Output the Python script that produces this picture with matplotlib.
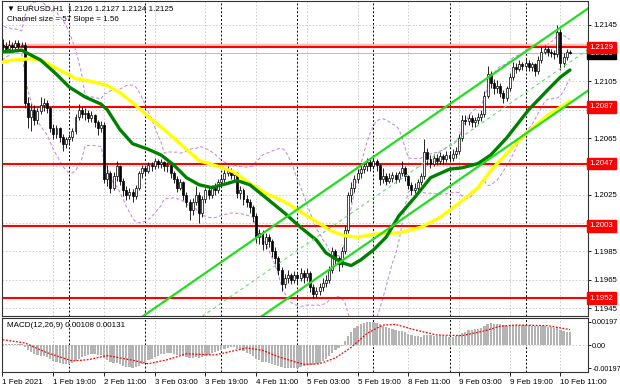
import numpy as np
import pandas as pd
import matplotlib
matplotlib.use('Agg')
import matplotlib.pyplot as plt
from matplotlib import transforms

plt.rcParams['font.family'] = ['Liberation Sans', 'DejaVu Sans']

# hourly bars, index = hours since 1 Feb 00:00 (weekend skipped)
first_bar = 3
open0 = 1.2131
closes = [
    1.2130, 1.2128, 1.2131, 1.2129, 1.2132, 1.2130, 1.2131, 1.2090, 1.2080, 1.2085,
    1.2078, 1.2084, 1.2088, 1.2090, 1.2086, 1.2072, 1.2068, 1.2072, 1.2066, 1.2061,
    1.2064, 1.2066, 1.2070, 1.2080, 1.2085, 1.2082, 1.2083, 1.2079, 1.2081, 1.2076,
    1.2072, 1.2074, 1.2036, 1.2040, 1.2030, 1.2038, 1.2045, 1.2035, 1.2028, 1.2025,
    1.2027, 1.2024, 1.2030, 1.2040, 1.2044, 1.2042, 1.2046, 1.2045, 1.2049, 1.2047,
    1.2048, 1.2045, 1.2046, 1.2040, 1.2036, 1.2030, 1.2034, 1.2025, 1.2020, 1.2014,
    1.2020, 1.2025, 1.2012, 1.2022, 1.2028, 1.2025, 1.2030, 1.2028, 1.2034, 1.2036,
    1.2040, 1.2042, 1.2039, 1.2040, 1.2026, 1.2028, 1.2022, 1.2020, 1.2016, 1.2010,
    1.1995, 1.1998, 1.1990, 1.1995, 1.1992, 1.1985, 1.1980, 1.1972, 1.1962, 1.1966,
    1.1968, 1.1965, 1.1968, 1.1966, 1.1970, 1.1967, 1.1970, 1.1960, 1.1955, 1.1957,
    1.1960, 1.1963, 1.1965, 1.1972, 1.1985, 1.1980, 1.1976, 1.1985, 1.2000, 1.2025,
    1.2030, 1.2036, 1.2040, 1.2043, 1.2045, 1.2048, 1.2045, 1.2049, 1.2046, 1.2036,
    1.2038, 1.2035, 1.2037, 1.2039, 1.2036, 1.2040, 1.2044, 1.2038, 1.2032, 1.2028,
    1.2030, 1.2034, 1.2038, 1.2055, 1.2050, 1.2047, 1.2051, 1.2049, 1.2052, 1.2050,
    1.2053, 1.2051, 1.2054, 1.2056, 1.2065, 1.2078, 1.2077, 1.2079, 1.2076, 1.2078,
    1.2080, 1.2082, 1.2095, 1.2110, 1.2104, 1.2100, 1.2102, 1.2097, 1.2093, 1.2100,
    1.2108, 1.2115, 1.2114, 1.2117, 1.2116, 1.2118, 1.2115, 1.2117, 1.2112, 1.2120,
    1.2126, 1.2128, 1.2126, 1.2125, 1.2124, 1.2140, 1.2118, 1.2122, 1.2126, 1.2125,
]
highs = [
    1.2135, 1.2133, 1.2134, 1.2133, 1.2134, 1.2134, 1.2133, 1.2133, 1.2094, 1.2089,
    1.2088, 1.2086, 1.2094, 1.2093, 1.2092, 1.2087, 1.2075, 1.2074, 1.2073, 1.2068,
    1.2066, 1.2068, 1.2072, 1.2082, 1.2089, 1.2087, 1.2086, 1.2085, 1.2084, 1.2082,
    1.2078, 1.2077, 1.2076, 1.2046, 1.2042, 1.2041, 1.2049, 1.2046, 1.2037, 1.2031,
    1.2030, 1.2029, 1.2032, 1.2042, 1.2046, 1.2046, 1.2048, 1.2048, 1.2051, 1.2050,
    1.2050, 1.2049, 1.2048, 1.2047, 1.2042, 1.2038, 1.2036, 1.2035, 1.2027, 1.2022,
    1.2023, 1.2031, 1.2027, 1.2024, 1.2030, 1.2031, 1.2032, 1.2033, 1.2036, 1.2039,
    1.2043, 1.2045, 1.2044, 1.2042, 1.2041, 1.2031, 1.2030, 1.2025, 1.2022, 1.2018,
    1.2012, 1.2001, 1.2000, 1.1998, 1.1997, 1.1994, 1.1988, 1.1982, 1.1974, 1.1969,
    1.1972, 1.1970, 1.1971, 1.1970, 1.1973, 1.1972, 1.1973, 1.1971, 1.1962, 1.1960,
    1.1963, 1.1966, 1.1968, 1.1975, 1.1988, 1.1987, 1.1982, 1.1988, 1.2003, 1.2027,
    1.2034, 1.2039, 1.2043, 1.2046, 1.2048, 1.2051, 1.2050, 1.2052, 1.2050, 1.2047,
    1.2044, 1.2040, 1.2040, 1.2041, 1.2041, 1.2042, 1.2049, 1.2045, 1.2039, 1.2034,
    1.2033, 1.2036, 1.2040, 1.2064, 1.2058, 1.2053, 1.2054, 1.2054, 1.2055, 1.2054,
    1.2056, 1.2055, 1.2057, 1.2059, 1.2068, 1.2081, 1.2081, 1.2082, 1.2081, 1.2080,
    1.2083, 1.2085, 1.2098, 1.2116, 1.2112, 1.2107, 1.2106, 1.2104, 1.2099, 1.2102,
    1.2111, 1.2119, 1.2118, 1.2120, 1.2119, 1.2121, 1.2120, 1.2119, 1.2118, 1.2123,
    1.2129, 1.2131, 1.2130, 1.2128, 1.2127, 1.2145, 1.2142, 1.2125, 1.2128, 1.2127,
]
lows = [
    1.2127, 1.2126, 1.2126, 1.2127, 1.2128, 1.2128, 1.2129, 1.2086, 1.2072, 1.2070,
    1.2074, 1.2075, 1.2082, 1.2084, 1.2083, 1.2069, 1.2064, 1.2065, 1.2062, 1.2056,
    1.2058, 1.2060, 1.2063, 1.2068, 1.2078, 1.2079, 1.2078, 1.2076, 1.2076, 1.2073,
    1.2067, 1.2069, 1.2033, 1.2031, 1.2026, 1.2028, 1.2035, 1.2032, 1.2024, 1.2021,
    1.2022, 1.2020, 1.2022, 1.2028, 1.2037, 1.2039, 1.2040, 1.2042, 1.2043, 1.2044,
    1.2044, 1.2042, 1.2041, 1.2037, 1.2033, 1.2027, 1.2028, 1.2021, 1.2016, 1.2007,
    1.2011, 1.2018, 1.2005, 1.2009, 1.2019, 1.2022, 1.2023, 1.2025, 1.2026, 1.2031,
    1.2034, 1.2038, 1.2036, 1.2035, 1.2023, 1.2022, 1.2018, 1.2016, 1.2012, 1.2006,
    1.1991, 1.1990, 1.1986, 1.1987, 1.1988, 1.1981, 1.1976, 1.1968, 1.1957, 1.1959,
    1.1963, 1.1962, 1.1963, 1.1962, 1.1964, 1.1963, 1.1964, 1.1956, 1.1952, 1.1953,
    1.1954, 1.1957, 1.1960, 1.1963, 1.1970, 1.1976, 1.1971, 1.1974, 1.1983, 1.1998,
    1.2020, 1.2027, 1.2033, 1.2037, 1.2040, 1.2042, 1.2042, 1.2043, 1.2042, 1.2032,
    1.2033, 1.2032, 1.2033, 1.2034, 1.2033, 1.2034, 1.2038, 1.2035, 1.2029, 1.2025,
    1.2026, 1.2028, 1.2032, 1.2036, 1.2046, 1.2044, 1.2045, 1.2046, 1.2047, 1.2047,
    1.2048, 1.2048, 1.2049, 1.2051, 1.2054, 1.2063, 1.2074, 1.2074, 1.2073, 1.2073,
    1.2075, 1.2077, 1.2080, 1.2093, 1.2100, 1.2096, 1.2097, 1.2094, 1.2090, 1.2091,
    1.2098, 1.2106, 1.2111, 1.2112, 1.2113, 1.2114, 1.2112, 1.2112, 1.2109, 1.2110,
    1.2118, 1.2124, 1.2123, 1.2122, 1.2121, 1.2122, 1.2113, 1.2115, 1.2120, 1.2124,
]
# closes before the first visible bar (for the bands)
prev_closes = [1.2112, 1.2118, 1.2125, 1.2121, 1.2130, 1.2136, 1.2140, 1.2134, 1.2138, 1.2142,
               1.2137, 1.2133, 1.2128, 1.2135, 1.2139, 1.2136, 1.2131, 1.2127, 1.2133, 1.2131]

# moving averages
green_t = [2, 5, 9, 15, 20, 24, 29, 34, 36, 40, 44, 49, 53, 57, 61, 65, 69, 74, 77, 81, 86,
           92, 97, 102, 105, 110, 113, 116, 120, 124, 128, 133, 138, 144, 148, 153, 157, 162,
           169, 175, 179, 182]
green_p = [1.2126, 1.2126, 1.2127, 1.2120, 1.2110, 1.2101, 1.2094, 1.2089, 1.2085, 1.2071,
           1.2061, 1.2057, 1.2053, 1.2046, 1.2037, 1.2032, 1.2030, 1.2033, 1.2035, 1.2032,
           1.2023, 1.2012, 1.2002, 1.1993, 1.1984, 1.1977, 1.1975, 1.1979, 1.1986, 1.1995,
           1.2010, 1.2023, 1.2037, 1.2043, 1.2044, 1.2047, 1.2053, 1.2065, 1.2085, 1.2099,
           1.2108, 1.2113]
yellow_t = [2, 6, 12, 16, 21, 26, 31, 36, 40, 44, 49, 55, 61, 65, 71, 76, 81, 86, 92, 97,
            102, 107, 111, 115, 120, 124, 128, 135, 141, 147, 153, 157, 162, 168, 175, 182]
yellow_p = [1.2118, 1.2120, 1.2121, 1.2119, 1.2113, 1.2107, 1.2105, 1.2102, 1.2097, 1.2090,
            1.2080, 1.2069, 1.2057, 1.2049, 1.2045, 1.2041, 1.2033, 1.2026, 1.2020, 1.2013,
            1.2006, 1.1999, 1.1996, 1.1995, 1.1997, 1.1998, 1.1998, 1.2002, 1.2009, 1.2019,
            1.2030, 1.2042, 1.2054, 1.2068, 1.2081, 1.2091]

levels = [1.2129, 1.2087, 1.2047, 1.2003, 1.1952]
bid = 1.2125

# regression channel: middle line end points and half width
chan_t = [40, 190]
chan_mid = [1.1899, 1.2131]
chan_half = 0.0029

macd_main = [
    0.00012, 0.00010, 0.00010, 0.00008, 0.00008, 0.00006, 0.00005, -0.00020, -0.00045, -0.00060,
    -0.00075, -0.00085, -0.00090, -0.00095, -0.00105, -0.00120, -0.00135, -0.00145, -0.00155, -0.00165,
    -0.00165, -0.00160, -0.00150, -0.00135, -0.00115, -0.00100, -0.00090, -0.00085, -0.00080, -0.00080,
    -0.00082, -0.00085, -0.00110, -0.00130, -0.00148, -0.00155, -0.00155, -0.00165, -0.00175, -0.00185,
    -0.00190, -0.00195, -0.00190, -0.00175, -0.00160, -0.00145, -0.00130, -0.00115, -0.00100, -0.00090,
    -0.00080, -0.00075, -0.00070, -0.00072, -0.00078, -0.00085, -0.00088, -0.00095, -0.00102, -0.00110,
    -0.00110, -0.00105, -0.00110, -0.00100, -0.00090, -0.00082, -0.00072, -0.00062, -0.00050, -0.00040,
    -0.00030, -0.00022, -0.00018, -0.00015, -0.00030, -0.00040, -0.00055, -0.00068, -0.00080, -0.00095,
    -0.00118, -0.00130, -0.00142, -0.00148, -0.00152, -0.00160, -0.00168, -0.00178, -0.00190, -0.00195,
    -0.00197, -0.00197, -0.00195, -0.00192, -0.00185, -0.00180, -0.00172, -0.00172, -0.00170, -0.00162,
    -0.00150, -0.00135, -0.00118, -0.00095, -0.00065, -0.00045, -0.00028, -0.00005, 0.00030, 0.00080,
    0.00115, 0.00145, 0.00165, 0.00180, 0.00190, 0.00197, 0.00195, 0.00194, 0.00188, 0.00175,
    0.00165, 0.00152, 0.00142, 0.00135, 0.00125, 0.00120, 0.00118, 0.00110, 0.00095, 0.00085,
    0.00078, 0.00074, 0.00072, 0.00082, 0.00085, 0.00082, 0.00080, 0.00078, 0.00076, 0.00074,
    0.00074, 0.00072, 0.00072, 0.00075, 0.00085, 0.00102, 0.00115, 0.00125, 0.00130, 0.00135,
    0.00140, 0.00145, 0.00158, 0.00178, 0.00185, 0.00182, 0.00180, 0.00175, 0.00168, 0.00165,
    0.00168, 0.00172, 0.00172, 0.00173, 0.00172, 0.00170, 0.00167, 0.00165, 0.00158, 0.00158,
    0.00160, 0.00160, 0.00156, 0.00150, 0.00145, 0.00150, 0.00132, 0.00122, 0.00115, 0.00108,
]
signal_t = [3, 10, 17, 25, 30, 36, 44, 49, 55, 61, 70, 80, 85, 90, 98, 103, 108, 113, 118,
            123, 127, 133, 140, 148, 155, 160, 165, 175, 182]
signal_v = [0.00045, 0.00018, -0.00066, -0.00136, -0.00125, -0.00090, -0.00130, -0.00160,
            -0.00125, -0.00075, -0.00085, -0.00025, -0.00045, -0.00100, -0.00165, -0.00160,
            -0.00110, -0.00020, 0.00100, 0.00170, 0.00175, 0.00130, 0.00085, 0.00080, 0.00120,
            0.00160, 0.00170, 0.00165, 0.00131]

time_ticks = [19, 35, 51, 67, 83, 99, 115, 131, 147, 163, 179]
time_labels = ['1 Feb 19:00', '2 Feb 11:00', '3 Feb 03:00', '3 Feb 19:00', '4 Feb 11:00',
               '5 Feb 03:00', '5 Feb 19:00', '8 Feb 11:00', '9 Feb 03:00', '9 Feb 19:00',
               '10 Feb 11:00']
day_starts = [24, 48, 72, 96, 120, 144, 168]
price_ticks = [1.1945, 1.1965, 1.1985, 1.2005, 1.2025, 1.2045, 1.2065, 1.2085, 1.2105, 1.2125, 1.2145]

closes = np.array(closes)
highs = np.array(highs)
lows = np.array(lows)
t = np.arange(first_bar, first_bar + len(closes))
opens = np.r_[open0, closes[:-1]]

fig = plt.figure(figsize=(6.2, 3.88), dpi=100)
ax = fig.add_axes([0.0032, 0.1856, 0.9452, 0.8118])
ax2 = fig.add_axes([0.0032, 0.0412, 0.9452, 0.1392])

grid_style = dict(color='#c8c8c8', lw=0.6, ls=(0, (2, 2)))
for a in (ax, ax2):
    a.set_xlim(2.8, 187.7)
    a.set_xticks(time_ticks)
    for x in time_ticks:
        a.axvline(x, zorder=0, **grid_style)
    for d in day_starts:
        a.axvline(d, color='black', lw=0.7, ls=(0, (2, 2)), zorder=1)
    for s in a.spines.values():
        s.set_linewidth(0.8)
        s.set_color('#333333')

# main price pane
ax.set_ylim(1.19394, 1.21617)
for p in price_ticks:
    ax.axhline(p, zorder=0, **grid_style)

# bollinger bands
allc = pd.Series(prev_closes + list(closes))
bb_t = np.arange(first_bar - len(prev_closes), first_bar + len(closes))
bb_mid = allc.rolling(20).mean()
bb_sd = allc.rolling(20).std(ddof=0)
ax.plot(bb_t, bb_mid + 2 * bb_sd, color='#c890e0', lw=0.8, ls=(0, (3, 2)), zorder=1.5)
ax.plot(bb_t, bb_mid - 2 * bb_sd, color='#c890e0', lw=0.8, ls=(0, (3, 2)), zorder=1.5)

# level lines
ax.axhline(levels[0] + 0.00015, color='#ffc0b8', lw=2.5, zorder=1.8)
ax.axhline(bid, color='#bbbbbb', lw=0.7, zorder=1.8)
for lv in levels:
    ax.axhline(lv, color='#ff0000', lw=1.5, zorder=1.9)

# candles
up = closes >= opens
body_lo = np.minimum(opens, closes)
body_h = np.maximum(np.abs(closes - opens), 0.00004)
ax.vlines(t, lows, highs, color='black', lw=0.6, zorder=2)
ax.bar(t[up], body_h[up], bottom=body_lo[up], width=0.62, color='white',
       edgecolor='black', linewidth=0.5, zorder=2.1)
ax.bar(t[~up], body_h[~up], bottom=body_lo[~up], width=0.62, color='black',
       edgecolor='black', linewidth=0.5, zorder=2.1)

# moving averages
ax.plot(yellow_t, yellow_p, color='#ffff00', lw=2.4, zorder=3, solid_capstyle='round')
ax.plot(green_t, green_p, color='#008000', lw=2.4, zorder=3.1, solid_capstyle='round')

# regression channel
cm = np.array(chan_mid)
ax.plot(chan_t, cm + chan_half, color='#22dd22', lw=1.6, zorder=3.2)
ax.plot(chan_t, cm - chan_half, color='#22dd22', lw=1.6, zorder=3.2)
ax.plot(chan_t, cm, color='#66dd66', lw=0.8, ls=(0, (3, 3)), zorder=3.2)

ax.yaxis.tick_right()
ax.set_yticks(price_ticks)
ax.set_yticklabels(['%.4f' % p for p in price_ticks])
ax.tick_params(axis='y', length=2, width=0.6, pad=1.5, labelsize=5.6)
ax.tick_params(axis='x', length=0, labelbottom=False)

trans = transforms.blended_transform_factory(ax.transAxes, ax.transData)
for lv in levels:
    ax.text(1.003, lv, '%.4f' % lv, transform=trans, va='center', ha='left', fontsize=5.6,
            color='white', clip_on=False, zorder=6,
            bbox=dict(boxstyle='square,pad=0.3', fc='#ff0000', ec='#ff0000'))
ax.text(1.003, bid - 0.00004, '%.4f' % bid, transform=trans, va='center', ha='left', fontsize=5.6,
        color='white', clip_on=False, zorder=5,
        bbox=dict(boxstyle='square,pad=0.3', fc='black', ec='black'))

ax.text(0.008, 0.988, '\u25bc EURUSD,H1  1.2126 1.2127 1.2124 1.2125', transform=ax.transAxes,
        fontsize=5.8, va='top', ha='left', zorder=7)
ax.text(0.008, 0.952, 'Channel size = 57 Slope = 1.56', transform=ax.transAxes,
        fontsize=5.8, va='top', ha='left', zorder=7)

# macd pane
ax2.set_ylim(-0.0023, 0.0023)
ax2.axhline(0, zorder=0, **grid_style)
ax2.bar(t, macd_main, width=0.72, color='#b4b4b4', zorder=2)
ax2.plot(signal_t, signal_v, color='#ff0000', lw=0.9, ls=(0, (1.5, 1.2)), zorder=3)
ax2.text(0.008, 0.93, 'MACD(12,26,9) 0.00108 0.00131', transform=ax2.transAxes,
         fontsize=5.8, va='top', ha='left')
ax2.yaxis.tick_right()
ax2.set_yticks([-0.00197, 0, 0.00197])
ax2.set_yticklabels(['-0.00197', '0.00', '0.00197'])
ax2.tick_params(axis='y', length=2, width=0.6, pad=1, labelsize=5.2)
ax2.set_xticks([2.9] + time_ticks)
ax2.set_xticklabels(['1 Feb 2021'] + time_labels, ha='left')
ax2.tick_params(axis='x', length=3, width=0.6, pad=2, labelsize=5.8)

fig.savefig('out.png', dpi=100)
